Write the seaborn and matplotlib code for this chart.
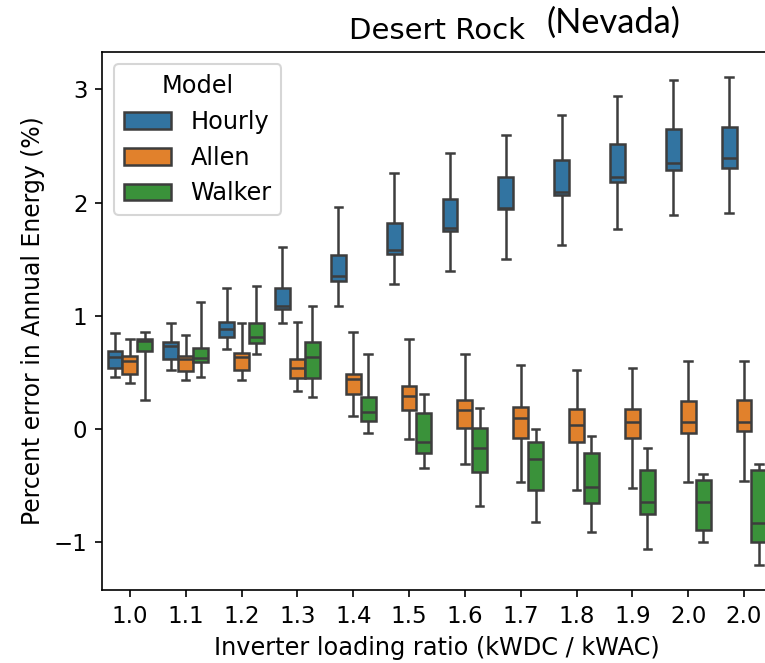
import numpy as np
import pandas as pd
import matplotlib
matplotlib.use("Agg")
import matplotlib.pyplot as plt
import seaborn as sns

# Inverter loading ratio groups (tick labels as printed on the axis)
ilr_labels = ["1.0", "1.1", "1.2", "1.3", "1.4", "1.5",
              "1.6", "1.7", "1.8", "1.9", "2.0", "2.0"]

models = ["Hourly", "Allen", "Walker"]

# Five-number summaries (min, Q1, median, Q3, max) of the percent error
# in annual energy, one per inverter loading ratio group
hourly = [
    (0.46, 0.54, 0.64, 0.69, 0.85),
    (0.52, 0.62, 0.73, 0.77, 0.94),
    (0.71, 0.81, 0.88, 0.95, 1.25),
    (0.94, 1.06, 1.09, 1.25, 1.61),
    (1.09, 1.31, 1.35, 1.54, 1.96),
    (1.28, 1.55, 1.58, 1.82, 2.26),
    (1.40, 1.75, 1.78, 2.03, 2.44),
    (1.50, 1.94, 1.95, 2.23, 2.60),
    (1.63, 2.07, 2.09, 2.38, 2.77),
    (1.77, 2.18, 2.23, 2.52, 2.94),
    (1.89, 2.29, 2.35, 2.65, 3.08),
    (1.91, 2.31, 2.39, 2.67, 3.11),
]
allen = [
    (0.41, 0.49, 0.60, 0.65, 0.80),
    (0.43, 0.51, 0.62, 0.65, 0.83),
    (0.43, 0.52, 0.64, 0.67, 0.94),
    (0.34, 0.45, 0.54, 0.62, 0.95),
    (0.12, 0.31, 0.44, 0.49, 0.86),
    (-0.09, 0.17, 0.29, 0.38, 0.80),
    (-0.31, 0.01, 0.17, 0.26, 0.66),
    (-0.47, -0.08, 0.10, 0.20, 0.57),
    (-0.54, -0.11, 0.04, 0.18, 0.52),
    (-0.52, -0.08, 0.06, 0.18, 0.54),
    (-0.47, -0.03, 0.06, 0.25, 0.60),
    (-0.46, -0.02, 0.06, 0.26, 0.60),
]
walker = [
    (0.26, 0.69, 0.78, 0.80, 0.86),
    (0.46, 0.59, 0.63, 0.72, 1.12),
    (0.66, 0.76, 0.81, 0.94, 1.26),
    (0.28, 0.45, 0.64, 0.77, 1.09),
    (-0.03, 0.07, 0.15, 0.28, 0.66),
    (-0.34, -0.21, -0.11, 0.14, 0.31),
    (-0.68, -0.38, -0.17, 0.01, 0.19),
    (-0.82, -0.54, -0.26, -0.11, 0.00),
    (-0.91, -0.65, -0.51, -0.21, -0.06),
    (-1.06, -0.75, -0.64, -0.36, -0.17),
    (-1.00, -0.89, -0.64, -0.45, -0.40),
    (-1.20, -1.00, -0.83, -0.36, -0.31),
]

# Long-form table: each summary's five values become the observations of a box
rows = []
for model, summaries in zip(models, [hourly, allen, walker]):
    for group, summary in enumerate(summaries):
        for value in summary:
            rows.append({"group": group, "Model": model, "error": value})
df = pd.DataFrame(rows)

plt.rcParams["font.family"] = ["DejaVu Sans"]
fig = plt.figure(figsize=(5.1, 4.42), dpi=150)
ax = fig.add_axes([0.1333, 0.1101, 0.8758, 0.8115])

sns.boxplot(data=df, x="group", y="error", hue="Model", hue_order=models,
            whis=(0, 100), width=0.8, linewidth=1.2, ax=ax)

ax.set_xticks(range(len(ilr_labels)))
ax.set_xticklabels(ilr_labels)
ax.set_xlim(-0.5, len(ilr_labels) - 0.5)
ax.set_ylim(-1.42, 3.33)
ax.set_yticks([-1, 0, 1, 2, 3])
ax.tick_params(labelsize=11)
ax.set_xlabel("Inverter loading ratio (kWDC / kWAC)", fontsize=11.5)
ax.set_ylabel("Percent error in Annual Energy (%)", fontsize=11.3)
ax.set_title("Desert Rock", fontsize=14, pad=6)

leg = ax.legend(title="Model", loc="upper left", fontsize=11.5,
                title_fontsize=11.5)

fig.text(546 / 765, 1 - 23 / 663, "(Nevada)", family=["Lato", "DejaVu Sans"],
         fontsize=16.5, ha="left", va="center")

fig.savefig("out.png", dpi=150)
